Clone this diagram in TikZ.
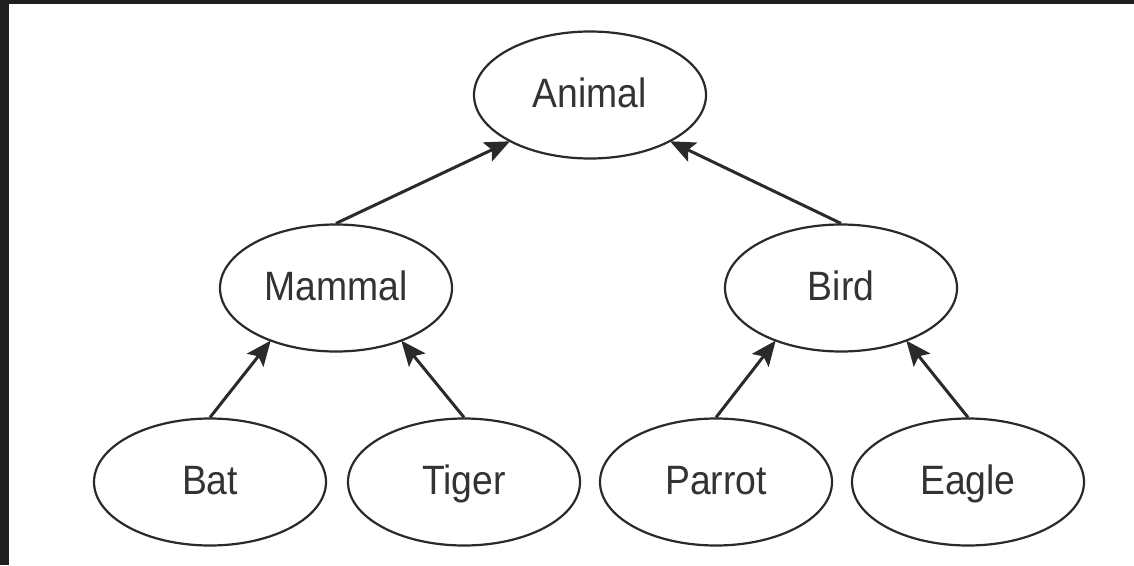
\documentclass[tikz,border=0pt]{standalone}
\usepackage{fontspec}
\setmainfont[FakeStretch=0.91]{Liberation Sans}
\usetikzlibrary{shapes.geometric,arrows.meta}
\definecolor{framegray}{HTML}{1E1E1E}
\definecolor{ink}{HTML}{2A2A2A}
\definecolor{txt}{HTML}{333333}
\tikzset{
  concept/.style={ellipse, draw=ink, line width=2.2pt, minimum width=232pt, minimum height=127pt,
    inner sep=0pt, text=txt, font=\fontsize{41}{45}\selectfont, text height=29.3pt, text depth=5pt},
  isa/.style={draw=ink, line width=3pt, -{Stealth[length=25pt,width=21pt,inset=5pt]}, shorten >=-1pt}
}
\begin{document}
\begin{tikzpicture}[x=1pt,y=-1pt]
\useasboundingbox (0,0) rectangle (1134,565);
\fill[framegray] (0,0) rectangle (1134,565);
\fill[white] (9,4) rectangle (1134,565);
\node[concept] (animal) at (590,95) {Animal};
\node[concept] (mammal) at (336,288) {Mammal};
\node[concept] (bird) at (841,288) {Bird};
\node[concept] (bat) at (210,482) {Bat};
\node[concept] (tiger) at (464,482) {Tiger};
\node[concept] (parrot) at (716,482) {Parrot};
\node[concept] (eagle) at (968,482) {Eagle};
\draw[isa] (mammal.north) -- (animal.210);
\draw[isa] (bird.north) -- (animal.330);
\draw[isa] (bat.north) -- (mammal.219);
\draw[isa] (tiger.north) -- (mammal.321);
\draw[isa] (parrot.north) -- (bird.219);
\draw[isa] (eagle.north) -- (bird.321);
\end{tikzpicture}
\end{document}
